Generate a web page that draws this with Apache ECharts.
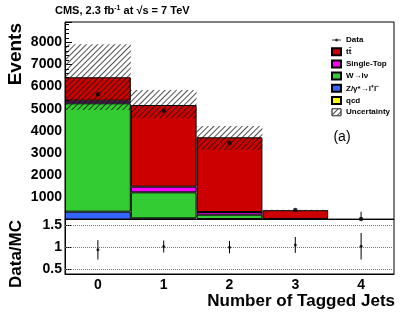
<!DOCTYPE html>
<html>
<head>
<meta charset="utf-8">
<script src="https://cdn.jsdelivr.net/npm/echarts@6/dist/echarts.min.js"></script>
<style>
html,body{margin:0;padding:0;background:#fff;}
#c{width:407px;height:315px;}
</style>
</head>
<body>
<div id="c"></div>
<script>
// ---- data ----
const categories = ['0', '1', '2', '3', '4'];
const qcd        = [0, 0, 0, 0, 0];
const zll        = [352, 50, 20, 3, 0];
const wlnu       = [4894, 1178, 197, 5, 1];
const singleTop  = [117, 253, 122, 17, 2];
const ttbar      = [1057, 3688, 3372, 395, 12];
const uncLow     = [4940, 4569, 3138, 395, 5];
const uncHigh    = [7910, 5846, 4221, 445, 25];
const dataVals   = [5652, 4912, 3454, 429, 20];
const dataErrLo  = [75, 70, 59, 21, 20];
const dataErrHi  = [75, 70, 59, 21, 330];
const ratioVals  = [0.94, 1.015, 1.0, 1.05, 1.02];
const ratioErr   = [0.22, 0.135, 0.14, 0.18, 0.30];
const mainTicks  = [1000, 2000, 3000, 4000, 5000, 6000, 7000, 8000];
const ratioTicks = [0.5, 1, 1.5];

const FONT = 'Liberation Sans';
const TT = 'tt\u0304';
const ZLL = 'Z/\u03b3*\u2192l\u207al\u207b';
const WLNU = 'W\u2192l\u03bd';
const chart = echarts.init(document.getElementById('c'), null, {renderer: 'canvas'});

function errBars(vals, lo, hi) {
  return vals.map((v, i) => [i, v - lo[i], v + hi[i]]);
}
function renderErr(params, api) {
  const x = api.value(0);
  const a = api.coord([x, api.value(1)]);
  const b = api.coord([x, api.value(2)]);
  return {type: 'line', shape: {x1: a[0], y1: a[1], x2: b[0], y2: b[1]},
          style: {stroke: '#000', lineWidth: 1}};
}
function mcBar(name, vals, color) {
  return {
    name: name, type: 'bar', stack: 'mc', xAxisIndex: 0, yAxisIndex: 0,
    data: vals, barWidth: '100%', barGap: '-100%',
    itemStyle: {color: color, borderColor: '#000', borderWidth: 1},
    emphasis: {disabled: true}
  };
}
const hatch = {symbol: 'rect', symbolSize: 1, dashArrayX: [1, 0], dashArrayY: [1, 3],
               rotation: -Math.PI / 4, color: 'rgba(20,20,20,0.75)', backgroundColor: 'rgba(0,0,0,0)'};

const option = {
  animation: false,
  grid: [
    {left: 65, top: 22, width: 329, height: 197.5, show: true, borderColor: '#000', borderWidth: 1, backgroundColor: 'transparent'},
    {left: 65, top: 219.5, width: 329, height: 54.5, show: true, borderColor: '#000', borderWidth: 1, backgroundColor: 'transparent'}
  ],
  xAxis: [
    {type: 'category', gridIndex: 0, data: categories, boundaryGap: true,
     axisLine: {lineStyle: {color: '#000'}},
     axisTick: {inside: true, length: 8, alignWithLabel: true, lineStyle: {color: '#000'}},
     axisLabel: {show: false}},
    {type: 'category', gridIndex: 1, data: categories, boundaryGap: true,
     axisLine: {lineStyle: {color: '#000'}},
     axisTick: {inside: true, length: 6, alignWithLabel: true, lineStyle: {color: '#000'}},
     axisLabel: {color: '#000', fontFamily: FONT, fontWeight: 'bold', fontSize: 14, margin: 4}}
  ],
  yAxis: [
    {type: 'value', gridIndex: 0, min: 0, max: 8916, interval: 1000,
     axisLine: {show: true, lineStyle: {color: '#000'}},
     axisTick: {show: true, inside: true, length: 7, lineStyle: {color: '#000'}},
     minorTick: {show: true, splitNumber: 5, length: 4, lineStyle: {color: '#000'}},
     splitLine: {show: false},
     axisLabel: {color: '#000', fontFamily: FONT, fontWeight: 'bold', fontSize: 14, margin: 3,
       formatter: v => (mainTicks.indexOf(v) >= 0 ? String(v) : '')}},
    {type: 'value', gridIndex: 1, min: 0.394, max: 1.624,
     axisLine: {show: true, lineStyle: {color: '#000'}},
     axisTick: {show: true, inside: true, length: 7, customValues: ratioTicks, lineStyle: {color: '#000'}},
     splitLine: {show: false},
     axisLabel: {color: '#000', fontFamily: FONT, fontWeight: 'bold', fontSize: 14, margin: 3,
       customValues: ratioTicks, formatter: v => String(v)}}
  ],
  legend: {
    orient: 'vertical', left: 326, top: 31, itemWidth: 9, itemHeight: 7, itemGap: 3.2,
    selectedMode: false,
    textStyle: {color: '#000', fontFamily: FONT, fontWeight: 'bold', fontSize: 8, lineHeight: 8},
    data: [
      {name: 'Data', icon: 'path://M0,0 M0,3 L9,3 L9,4 L0,4 Z M3,3.5 A1.5,1.5 0 1 1 6,3.5 A1.5,1.5 0 1 1 3,3.5 Z M9,7'},
      {name: TT, icon: 'rect'},
      {name: 'Single-Top', icon: 'rect'},
      {name: WLNU, icon: 'rect'},
      {name: ZLL, icon: 'rect'},
      {name: 'qcd', icon: 'rect'},
      {name: 'Uncertainty', icon: 'rect', itemStyle: {borderColor: '#555', borderWidth: 1, color: '#fff', decal: hatch}}
    ]
  },
  graphic: [
    {type: 'text', left: 55, top: 5, z: 10,
     style: {text: '{a|CMS, 2.3 fb}{s|-1}{a| at \u221as = 7 TeV}', fill: '#000',
       rich: {a: {fontFamily: FONT, fontWeight: 'bold', fontSize: 11, fill: '#000'},
              s: {fontFamily: FONT, fontWeight: 'bold', fontSize: 7, fill: '#000', verticalAlign: 'top', padding: [0, 0, 5, 0]}}}},
    {type: 'text', x: 16, y: 23, rotation: Math.PI / 2, z: 10,
     style: {text: 'Events', fill: '#000', font: 'bold 19px ' + FONT, textAlign: 'right', textVerticalAlign: 'middle'}},
    {type: 'text', x: 16.5, y: 254, rotation: Math.PI / 2, z: 10,
     style: {text: 'Data/MC', fill: '#000', font: 'bold 17px ' + FONT, textAlign: 'center', textVerticalAlign: 'middle'}},
    {type: 'text', x: 395, y: 301, z: 10,
     style: {text: 'Number of Tagged Jets', fill: '#000', font: 'bold 17px ' + FONT, textAlign: 'right', textVerticalAlign: 'middle'}},
    {type: 'text', x: 342, y: 137, z: 10,
     style: {text: '(a)', fill: '#000', font: '14px ' + FONT, textAlign: 'center', textVerticalAlign: 'middle'}}
  ],
  series: [
    mcBar('qcd', qcd, '#ffff00'),
    mcBar(ZLL, zll, '#3366ff'),
    mcBar(WLNU, wlnu, '#33cc33'),
    mcBar('Single-Top', singleTop, '#ff00ff'),
    mcBar(TT, ttbar, '#cc0000'),
    {name: 'uncBase', type: 'bar', stack: 'unc', data: uncLow, barWidth: '100%', barGap: '-100%',
     itemStyle: {color: 'rgba(0,0,0,0)'}, emphasis: {disabled: true}},
    {name: 'Uncertainty', type: 'bar', stack: 'unc', data: uncHigh.map((h, i) => h - uncLow[i]),
     barWidth: '100%', barGap: '-100%', emphasis: {disabled: true},
     itemStyle: {color: 'rgba(255,255,255,0)', borderWidth: 0, decal: hatch}},
    {name: 'dataErr', type: 'custom', xAxisIndex: 0, yAxisIndex: 0, z: 5,
     data: errBars(dataVals, dataErrLo, dataErrHi), renderItem: renderErr, encode: {x: 0, y: [1, 2]}},
    {name: 'Data', type: 'scatter', xAxisIndex: 0, yAxisIndex: 0, z: 6, data: dataVals,
     symbol: 'circle', symbolSize: 4.5, itemStyle: {color: '#000'}, emphasis: {disabled: true}},
    {name: 'ratioErr', type: 'custom', xAxisIndex: 1, yAxisIndex: 1, z: 5,
     data: errBars(ratioVals, ratioErr, ratioErr), renderItem: renderErr, encode: {x: 0, y: [1, 2]}},
    {name: 'ratio', type: 'scatter', xAxisIndex: 1, yAxisIndex: 1, z: 6, data: ratioVals,
     symbol: 'circle', symbolSize: 3, itemStyle: {color: '#000'}, emphasis: {disabled: true},
     markLine: {silent: true, symbol: 'none', label: {show: false},
       lineStyle: {color: '#777', type: 'dotted', width: 1},
       data: ratioTicks.map(v => ({yAxis: v}))}}
  ]
};
chart.setOption(option);
</script>
</body>
</html>
